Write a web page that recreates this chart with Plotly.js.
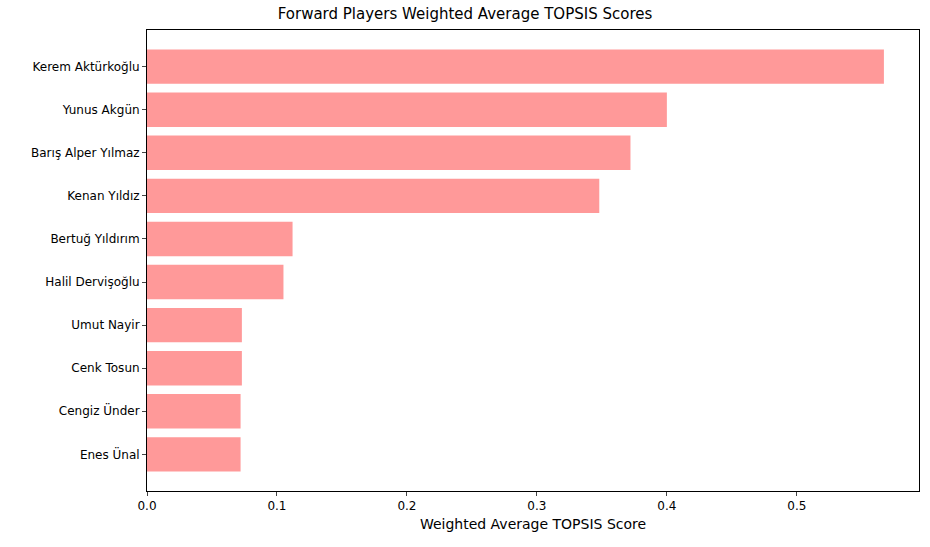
<!DOCTYPE html>
<html><head><meta charset="utf-8">
<script src="https://cdn.plot.ly/plotly-3.0.1.min.js"></script>
<style>body{margin:0}</style></head><body>
<div id="c" style="width:930px;height:547px"></div>
<script>
const players = ["Enes Ünal","Cengiz Ünder","Cenk Tosun","Umut Nayir","Halil Dervişoğlu","Bertuğ Yıldırım","Kenan Yıldız","Barış Alper Yılmaz","Yunus Akgün","Kerem Aktürkoğlu"];
const scores = [0.072,0.072,0.073,0.073,0.105,0.112,0.348,0.372,0.400,0.567];
const xTicks = [0,0.1,0.2,0.3,0.4,0.5];
Plotly.newPlot('c',[{type:'bar',orientation:'h',y:players,x:scores,width:0.8,marker:{color:'#ff9999'},hoverinfo:'x+y'}],{
 width:930,height:547,margin:{l:147,r:11,t:30,b:56},
 font:{family:'DejaVu Sans',size:12,color:'#000'},
 title:{text:'Forward Players Weighted Average TOPSIS Scores',font:{size:15},x:0.5,xanchor:'center',y:0.985,yanchor:'top'},
 xaxis:{range:[0,0.594],tickvals:xTicks,ticktext:xTicks.map(v=>v.toFixed(1)),showgrid:false,zeroline:false,showline:true,mirror:true,linecolor:'#000',ticks:'outside',ticklen:4,title:{text:'Weighted Average TOPSIS Score',standoff:6}},
 yaxis:{range:[-0.85,9.85],showgrid:false,zeroline:false,showline:true,mirror:true,linecolor:'#000',ticks:'outside',ticklen:4},
 plot_bgcolor:'#fff',paper_bgcolor:'#fff',showlegend:false
},{displayModeBar:false});
</script></body></html>
